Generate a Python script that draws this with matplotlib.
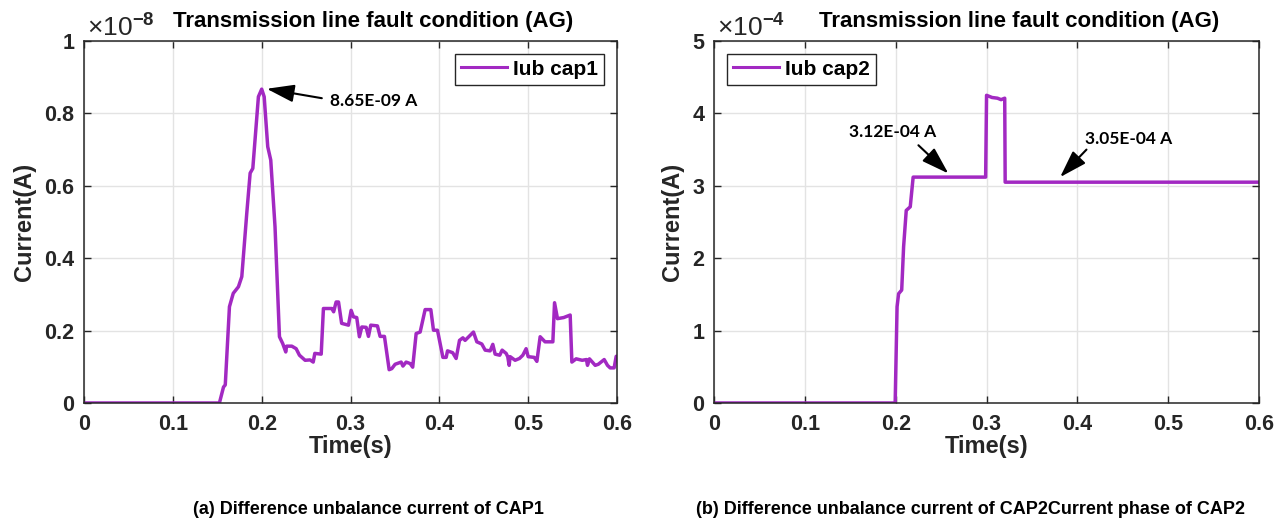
import matplotlib
matplotlib.use("Agg")
import matplotlib.pyplot as plt
from matplotlib.ticker import FuncFormatter

# (a) CAP1 difference unbalance current, values in units of 1e-8 A
t1 = [0.0, 0.1524, 0.157, 0.159, 0.1637, 0.168, 0.1738, 0.1776, 0.1832, 0.187, 0.190,
      0.1963, 0.200, 0.2028, 0.2068, 0.2102, 0.215, 0.220, 0.2237, 0.2271, 0.228,
      0.2339, 0.2388, 0.2425, 0.2489, 0.2545, 0.258, 0.2598, 0.267, 0.2695, 0.2789,
      0.281, 0.2838, 0.2865, 0.290, 0.2977, 0.3007, 0.3033, 0.307, 0.310, 0.3127,
      0.3176, 0.3202, 0.3228, 0.3303, 0.3333, 0.3382, 0.3435, 0.3465, 0.3502, 0.357,
      0.359, 0.3626, 0.3671, 0.370, 0.3739, 0.3784, 0.384, 0.3904, 0.3934, 0.3979,
      0.404, 0.4077, 0.4092, 0.415, 0.4189, 0.4227, 0.4265, 0.429, 0.4384, 0.4422,
      0.4478, 0.4516, 0.4572, 0.4602, 0.4628, 0.468, 0.4707, 0.4752, 0.477, 0.4786,
      0.4797, 0.4853, 0.4902, 0.494, 0.4977, 0.500, 0.5068, 0.5098, 0.5135, 0.519,
      0.5278, 0.5297, 0.533, 0.540, 0.5473, 0.5492, 0.554, 0.5608, 0.5656, 0.5668,
      0.569, 0.5755, 0.579, 0.5856, 0.5893, 0.5923, 0.5968, 0.5991, 0.6]
i1 = [0.0, 0.0, 0.044, 0.05, 0.266, 0.303, 0.321, 0.349, 0.524, 0.635, 0.648,
      0.846, 0.867, 0.846, 0.708, 0.671, 0.487, 0.183, 0.164, 0.141, 0.157,
      0.157, 0.150, 0.132, 0.118, 0.119, 0.113, 0.137, 0.135, 0.261, 0.261,
      0.252, 0.279, 0.279, 0.220, 0.215, 0.256, 0.238, 0.236, 0.183, 0.210,
      0.209, 0.184, 0.215, 0.213, 0.184, 0.184, 0.092, 0.095, 0.107, 0.113,
      0.102, 0.113, 0.109, 0.099, 0.192, 0.196, 0.258, 0.258, 0.201, 0.201,
      0.126, 0.126, 0.144, 0.139, 0.123, 0.173, 0.180, 0.173, 0.196, 0.169,
      0.163, 0.146, 0.144, 0.162, 0.135, 0.132, 0.146, 0.137, 0.128, 0.104,
      0.128, 0.118, 0.123, 0.132, 0.150, 0.128, 0.126, 0.115, 0.183, 0.169,
      0.169, 0.277, 0.233, 0.236, 0.243, 0.113, 0.122, 0.118, 0.120, 0.104,
      0.122, 0.104, 0.107, 0.120, 0.104, 0.097, 0.097, 0.129, 0.129]

# (b) CAP2 difference unbalance current, values in units of 1e-4 A
t2 = [0.0, 0.1994, 0.2015, 0.2032, 0.2066, 0.2087, 0.2116, 0.216, 0.2192, 0.299,
      0.3, 0.306, 0.312, 0.316, 0.320, 0.3205, 0.6]
i2 = [0.0, 0.0, 1.33, 1.51, 1.56, 2.16, 2.66, 2.71, 3.12, 3.12,
      4.25, 4.22, 4.21, 4.19, 4.21, 3.05, 3.05]

purple = "#A229C2"
dark = "#262626"
plt.rcParams["font.family"] = ["Liberation Sans", "DejaVu Sans"]
plt.rcParams["mathtext.fontset"] = "custom"
plt.rcParams["mathtext.rm"] = "Liberation Sans"
plt.rcParams["mathtext.bf"] = "Liberation Sans:bold"

fig = plt.figure(figsize=(12.87, 5.21), dpi=100)
ax1 = fig.add_axes([0.0653, 0.2265, 0.4141, 0.6948])
ax2 = fig.add_axes([0.5548, 0.2265, 0.4235, 0.6948])

def style(ax, ymax, yticks, expo, title_x):
    ax.set_xlim(0, 0.6)
    ax.set_ylim(0, ymax)
    ax.set_xticks([0, 0.1, 0.2, 0.3, 0.4, 0.5, 0.6])
    ax.set_yticks(yticks)
    ax.xaxis.set_major_formatter(FuncFormatter(lambda v, p: "%g" % round(v, 3)))
    ax.yaxis.set_major_formatter(FuncFormatter(lambda v, p: "%g" % round(v, 3)))
    ax.grid(True, color="#e3e3e3", linewidth=1)
    ax.tick_params(direction="in", top=True, right=True, length=5, width=1,
                   labelsize=15.5, colors=dark)
    ax.tick_params(axis="x", pad=8)
    ax.tick_params(axis="y", pad=7)
    for lab in ax.get_xticklabels() + ax.get_yticklabels():
        lab.set_fontweight("bold")
    for s in ax.spines.values():
        s.set_color(dark)
        s.set_linewidth(1.1)
    ax.set_xlabel("Time(s)", fontsize=17, fontweight="bold", color=dark, labelpad=0)
    ax.set_ylabel("Current(A)", fontsize=17, fontweight="bold", color=dark, labelpad=6)
    ax.text(0.005, 1.016, r"$\times\mathrm{10}^{\mathbf{%d}}$" % expo, transform=ax.transAxes,
            fontsize=19, color=dark, ha="left", va="baseline")
    ax.text(title_x, 1.04, "Transmission line fault condition (AG)", transform=ax.transAxes,
            fontsize=16, fontweight="bold", ha="center", va="baseline")

def leg(ax, loc):
    lg = ax.legend(loc=loc, fontsize=15, handlelength=2.2, handletextpad=0.3,
                   fancybox=False, edgecolor=dark, borderaxespad=0.6,
                   borderpad=0.3, framealpha=1)
    lg.get_frame().set_linewidth(1.0)
    for txt in lg.get_texts():
        txt.set_fontweight("bold")
    for ln in lg.get_lines():
        ln.set_linewidth(2.2)

def note(ax, text, tip, tail, pos, ha):
    ax.annotate("", xy=tip, xytext=tail,
                arrowprops=dict(arrowstyle="-|>,head_length=1.4,head_width=0.45",
                                color="black", lw=1.5, shrinkA=0, shrinkB=0,
                                mutation_scale=12))
    ax.text(pos[0], pos[1], text, fontsize=12.5, fontweight="bold",
            family=["Lato", "DejaVu Sans"], ha=ha, va="center")

ax1.plot(t1, i1, color=purple, linewidth=2.5, label="Iub cap1")
style(ax1, 1, [0, 0.2, 0.4, 0.6, 0.8, 1], -8, 0.542)
leg(ax1, "upper right")
note(ax1, "8.65E-09 A", (0.2057, 0.868), (0.2677, 0.842), (0.277, 0.833), "left")

ax2.plot(t2, i2, color=purple, linewidth=2.5, label="Iub cap2")
style(ax2, 5, [0, 1, 2, 3, 4, 5], -4, 0.56)
leg(ax2, "upper left")
note(ax2, "3.12E-04 A", (0.258, 3.17), (0.225, 3.56), (0.197, 3.74), "center")
note(ax2, "3.05E-04 A", (0.381, 3.12), (0.410, 3.50), (0.456, 3.64), "center")

fig.text(368 / 1287, 1 - 509 / 521, "(a) Difference unbalance current of CAP1",
         fontsize=13, fontweight="bold", ha="center", va="center")
fig.text(970 / 1287, 1 - 509 / 521, "(b) Difference unbalance current of CAP2Current phase of CAP2",
         fontsize=13, fontweight="bold", ha="center", va="center")

fig.savefig("out.png", dpi=100)
